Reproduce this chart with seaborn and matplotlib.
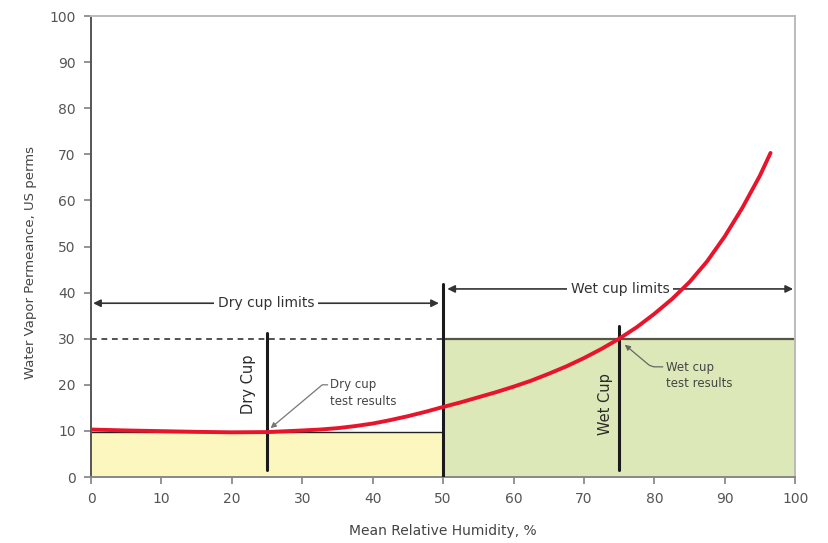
import matplotlib
matplotlib.use("Agg")
import matplotlib.pyplot as plt
import seaborn as sns
import pandas as pd

# Permeance curve of the membrane versus mean relative humidity
rh = [0, 5, 10, 15, 20, 25, 30, 32.5, 35, 37.5, 40, 42.5, 45, 47.5, 50,
      52.5, 55, 57.5, 60, 62.5, 65, 67.5, 70, 72.5, 75, 77.5, 80, 82.5,
      85, 87.5, 90, 92.5, 95, 96.5]
perm = [10.3, 10.1, 9.95, 9.8, 9.7, 9.75, 10.1, 10.3, 10.6, 11.05, 11.6, 12.35,
        13.2, 14.15, 15.2, 16.2, 17.3, 18.4, 19.6, 20.9, 22.4, 24.0, 25.8, 27.8,
        30.0, 32.5, 35.4, 38.6, 42.3, 46.8, 52.2, 58.4, 65.4, 70.3]

# Test methods: mean RH of each cup and the measured permeance
cup_names = ["Dry Cup", "Wet Cup"]
cup_rh = [25, 75]
cup_perm = [9.8, 30.0]

# RH ranges covered by each method
limit_names = ["Dry cup limits", "Wet cup limits"]
limit_lo = [0, 50]
limit_hi = [50, 100]
limit_level = [37.7, 40.8]

x_ticks = list(range(0, 101, 10))
y_ticks = list(range(0, 101, 10))

sns.set_style("white")
plt.rcParams["font.family"] = ["DejaVu Sans"]

fig = plt.figure(figsize=(8.29, 5.43), dpi=100)
ax = fig.add_axes([0.1098, 0.1215, 0.8494, 0.849])
ax.set_xlim(0, 100)
ax.set_ylim(0, 100)

# shaded ranges
fill_cols = ["#fcf6bf", "#dde8b8"]
for lo, hi, level, col in zip(limit_lo, limit_hi, cup_perm, fill_cols):
    ax.fill_between([lo, hi], [0, 0], [level, level], color=col, lw=0, zorder=1)

# top edges of the shaded areas
ax.plot([limit_lo[0], limit_hi[0]], [cup_perm[0]] * 2, color="#222222", lw=1.0, zorder=2)
ax.plot([limit_lo[1], limit_hi[1]], [cup_perm[1]] * 2, color="#55554a", lw=1.6, zorder=2)
ax.plot([limit_lo[0], limit_hi[0]], [cup_perm[1]] * 2, color="#444444", lw=1.3,
        dashes=(3.2, 2.6), zorder=2)

# boundary between the two ranges
ax.plot([limit_hi[0], limit_hi[0]], [0, 41.9], color="#1a1a1a", lw=2.2, zorder=3)

# vertical marker of each cup
cup_extent = [(1.5, 31.3), (1.5, 32.8)]
for xr, (y0, y1) in zip(cup_rh, cup_extent):
    ax.plot([xr, xr], [y0, y1], color="#1a1a1a", lw=2.2, zorder=3)

ax.text(22.3, 20.2, cup_names[0], rotation=90, ha="center", va="center",
        fontsize=10.5, color="#2a2a2a", zorder=4)
ax.text(73.0, 15.9, cup_names[1], rotation=90, ha="center", va="center",
        fontsize=10.5, color="#2a2a2a", zorder=4)

# double-headed range arrows with labels
arrow_ends = [(0.3, 49.4), (50.6, 99.7)]
for name, (a, b), lvl in zip(limit_names, arrow_ends, limit_level):
    ax.annotate("", xy=(a, lvl), xytext=(b, lvl),
                arrowprops=dict(arrowstyle="<|-|>", color="#333333", lw=1.2,
                                mutation_scale=11, shrinkA=0, shrinkB=0),
                zorder=3)
    ax.text((a + b) / 2, lvl, name, ha="center", va="center", fontsize=10,
            color="#333333", zorder=4,
            bbox=dict(boxstyle="square,pad=0.25", fc="white", ec="none"))

# permeance curve
curve = pd.DataFrame({"rh": rh, "perm": perm})
sns.lineplot(data=curve, x="rh", y="perm", color="#e8142c", lw=2.8, ax=ax,
             zorder=5, sort=True)

# callouts for the test results
ax.text(34.0, 18.2, "Dry cup\ntest results", ha="left", va="center",
        fontsize=8.5, color="#444444", linespacing=1.35, zorder=6)
ax.annotate("", xy=(cup_rh[0] + 0.5, cup_perm[0] + 0.8), xytext=(33.6, 20.0),
            arrowprops=dict(arrowstyle="-|>", color="#777777", lw=0.9,
                            mutation_scale=8, shrinkA=0, shrinkB=0,
                            connectionstyle="angle,angleA=0,angleB=40,rad=0"),
            zorder=6)
ax.text(81.6, 22.0, "Wet cup\ntest results", ha="left", va="center",
        fontsize=8.5, color="#444444", linespacing=1.35, zorder=6)
ax.annotate("", xy=(cup_rh[1] + 0.8, cup_perm[1] - 1.3), xytext=(81.2, 23.9),
            arrowprops=dict(arrowstyle="-|>", color="#666666", lw=0.9,
                            mutation_scale=8, shrinkA=0, shrinkB=0,
                            connectionstyle="angle,angleA=0,angleB=-40,rad=4"),
            zorder=6)

# axes styling
ax.set_xticks(x_ticks)
ax.set_yticks(y_ticks)
ax.tick_params(axis="both", which="major", direction="out", length=5, width=1.1,
               color="#777777", labelsize=10, labelcolor="#555555", pad=6,
               bottom=True, left=True)
for side, col in [("left", "#555555"), ("bottom", "#888888"),
                  ("top", "#bbbbbb"), ("right", "#bbbbbb")]:
    ax.spines[side].set_visible(True)
    ax.spines[side].set_color(col)
    ax.spines[side].set_linewidth(1.4)

ax.set_xlabel("Mean Relative Humidity, %", fontsize=10, color="#444444", labelpad=13)
ax.set_ylabel("Water Vapor Permeance, US perms", fontsize=9.5, color="#444444")
ax.yaxis.set_label_coords(-0.077, 0.466)

fig.savefig("out.png", dpi=100, facecolor="white")
